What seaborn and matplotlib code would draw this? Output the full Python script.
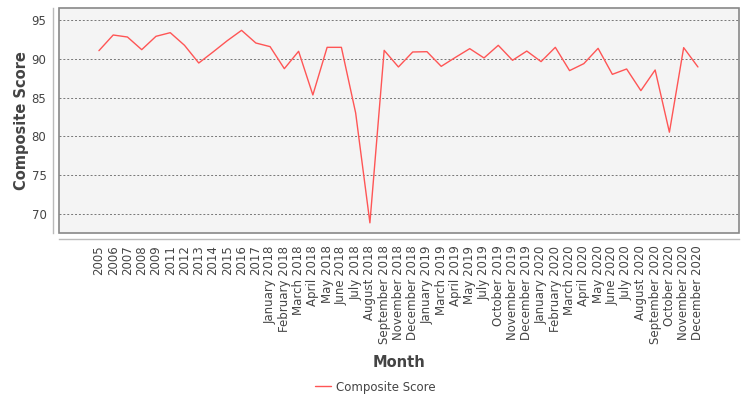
import matplotlib
matplotlib.use("Agg")
import matplotlib.pyplot as plt
import seaborn as sns
import pandas as pd

months = ["2005", "2006", "2007", "2008", "2009", "2011", "2012", "2013", "2014", "2015",
          "2016", "2017", "January 2018", "February 2018", "March 2018", "April 2018",
          "May 2018", "June 2018", "July 2018", "August 2018", "September 2018",
          "November 2018", "December 2018", "January 2019", "March 2019", "April 2019",
          "May 2019", "July 2019", "October 2019", "November 2019", "December 2019",
          "January 2020", "February 2020", "March 2020", "April 2020", "May 2020",
          "June 2020", "July 2020", "August 2020", "September 2020", "October 2020",
          "November 2020", "December 2020"]
scores = [91.05, 93.07, 92.81, 91.18, 92.9, 93.37, 91.74, 89.46, 90.88, 92.34,
          93.67, 92.04, 91.57, 88.73, 90.97, 85.34, 91.48, 91.48, 83.03, 68.86,
          91.09, 88.95, 90.88, 90.92, 89.03, 90.19, 91.31, 90.11, 91.74, 89.81,
          91.0, 89.64, 91.48, 88.48, 89.38, 91.35, 88.0, 88.69, 85.9, 88.56,
          80.54, 91.44, 88.95]
yticks = [70, 75, 80, 85, 90, 95]

df = pd.DataFrame({"Month": months, "Composite Score": scores})

sns.set_theme(style="white")
plt.rcParams["font.family"] = ["DejaVu Sans"]

fig = plt.figure(figsize=(7.5, 4.0), dpi=100)
ax = fig.add_axes([59 / 750, 1 - 233 / 400, 680 / 750, 225 / 400])

sns.lineplot(data=df, x="Month", y="Composite Score", sort=False, ax=ax,
             color="#ff5555", linewidth=1.0, label="Composite Score", legend=False)

ax.set_facecolor("#f4f4f4")
ax.set_xlim(-2.8, 44.88)
ax.set_ylim(67.55, 96.55)
ax.set_yticks(yticks)
ax.set_yticklabels([str(v) for v in yticks])

ax.grid(axis="y", color="#777777", linestyle=(0, (2, 2)), linewidth=0.7)
ax.grid(axis="x", visible=False)
ax.set_axisbelow(True)

for s in ["top", "right"]:
    ax.spines[s].set_visible(False)
for s in ["left", "bottom"]:
    ax.spines[s].set_position(("outward", 4))
    ax.spines[s].set_color("#bbbbbb")
    ax.spines[s].set_linewidth(1.0)

ax.patch.set_edgecolor("#888888")
ax.patch.set_linewidth(1.2)

ax.tick_params(axis="both", labelcolor="#444444", color="#aaaaaa", labelsize=8.5,
               length=3, width=0.8, direction="out", pad=2)
ax.tick_params(axis="x", labelrotation=90)

ax.set_xlabel("Month", fontsize=10.5, fontweight="bold", color="#444444", labelpad=8)
ax.set_ylabel("Composite Score", fontsize=10.5, fontweight="bold", color="#444444", labelpad=2)

handles, labels = ax.get_legend_handles_labels()
fig.legend(handles, labels, loc="center", bbox_to_anchor=(375 / 750, 1 - 387 / 400),
           frameon=False, fontsize=8.5, handlelength=1.4, handletextpad=0.4,
           labelcolor="#444444")

fig.savefig("out.png", dpi=100, facecolor="white")
